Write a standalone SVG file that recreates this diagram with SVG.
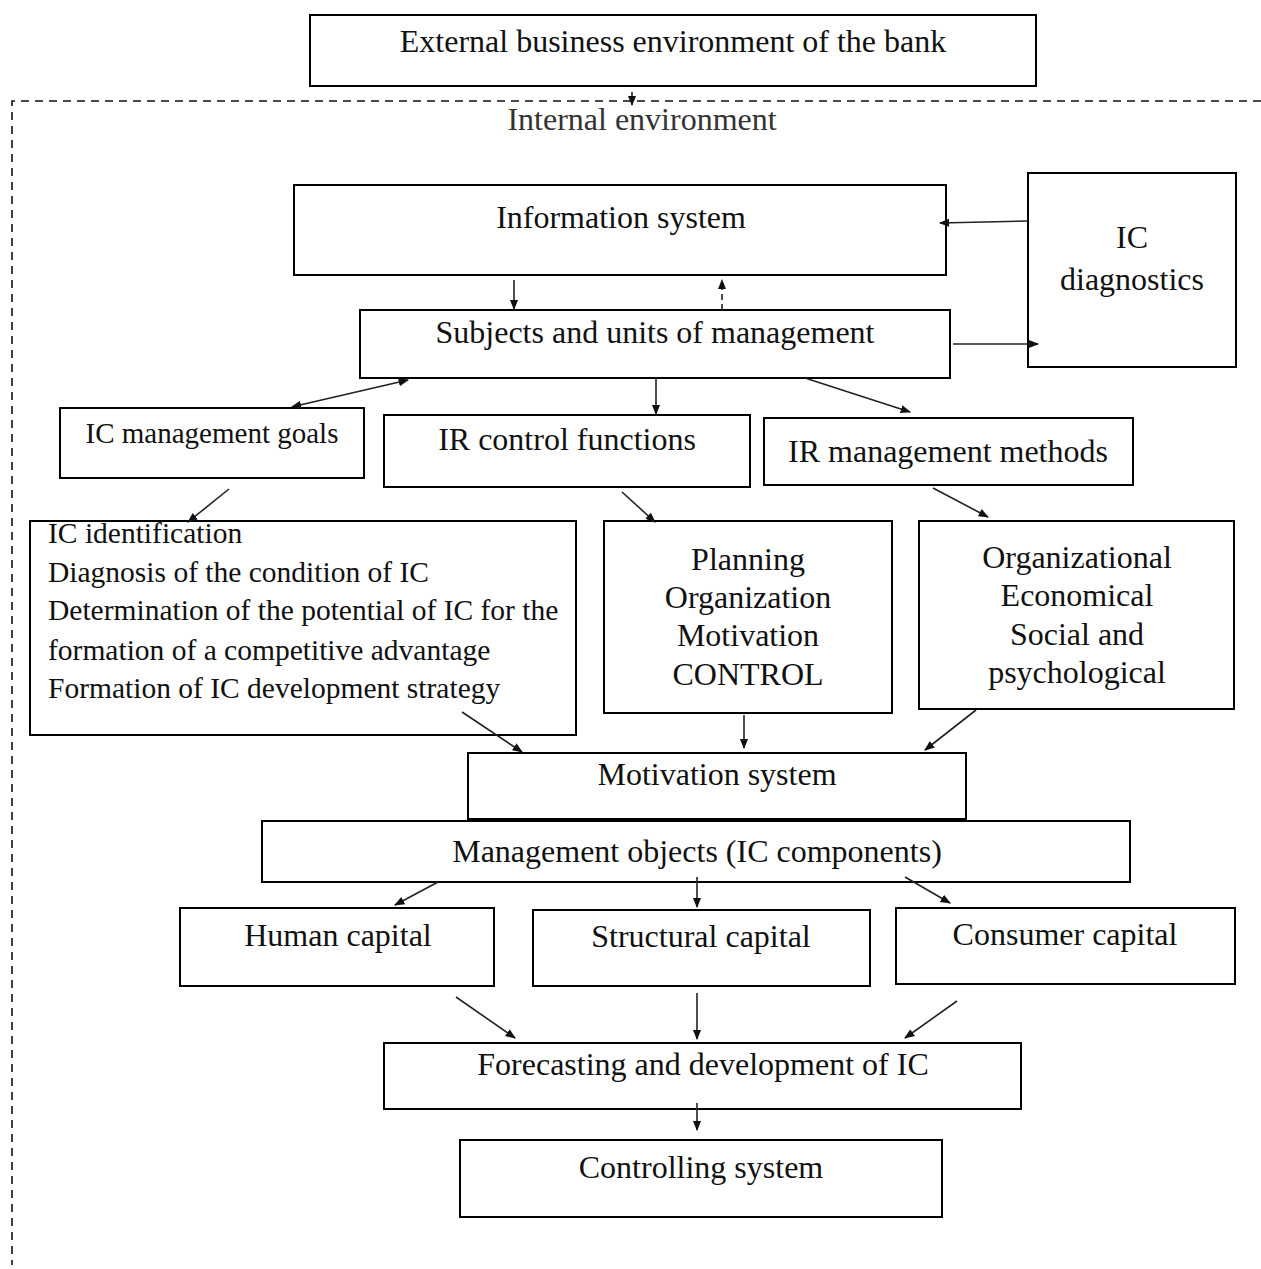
<svg xmlns="http://www.w3.org/2000/svg" width="1261" height="1269" viewBox="0 0 1261 1269">
<style>
  .box { fill: #fff; stroke: #000; stroke-width: 2; }
  .t { font-family: "Liberation Serif", "Times New Roman", serif; font-size: 32px; fill: #111; }
  .c { text-anchor: middle; }
  .lst { font-size: 29.5px; }
  .ln { stroke: #222; stroke-width: 1.6; fill: none; marker-end: url(#ah); }
  .dash { stroke: #111; stroke-width: 1.6; fill: none; stroke-dasharray: 8 6; }
</style>
<defs>
  <marker id="ah" viewBox="0 0 10 10" refX="9" refY="5" markerWidth="6.5" markerHeight="6.5" orient="auto" markerUnits="strokeWidth">
    <path d="M0,1 L10,5 L0,9 z" fill="#111"/>
  </marker>
  <marker id="as" viewBox="0 0 10 10" refX="1" refY="5" markerWidth="6.5" markerHeight="6.5" orient="auto-start-reverse" markerUnits="strokeWidth">
    <path d="M0,1 L10,5 L0,9 z" fill="#111"/>
  </marker>
</defs>
<rect width="1261" height="1269" fill="#fff"/>

<g id="internal-environment">
  <path class="dash" d="M1261,101 H12 V1265"/>
  <text class="t c" x="642" y="130" style="font-size:32px;fill:#333">Internal environment</text>
</g>

<g id="external">
  <rect class="box" x="310" y="15" width="726" height="71"/>
  <text class="t c" x="673" y="52">External business environment of the bank</text>
</g>
<g id="information-system">
  <rect class="box" x="294" y="185" width="652" height="90"/>
  <text class="t c" x="621" y="228">Information system</text>
</g>
<g id="ic-diagnostics">
  <rect class="box" x="1028" y="173" width="208" height="194"/>
  <text class="t c" x="1132" y="248">IC</text>
  <text class="t c" x="1132" y="290">diagnostics</text>
</g>
<g id="subjects">
  <rect class="box" x="360" y="310" width="590" height="68"/>
  <text class="t c" x="655" y="343">Subjects and units of management</text>
</g>
<g id="goals">
  <rect class="box" x="60" y="408" width="304" height="70"/>
  <text class="t c" x="212" y="443" style="font-size:29px">IC management goals</text>
</g>
<g id="functions">
  <rect class="box" x="384" y="415" width="366" height="72"/>
  <text class="t c" x="567" y="450">IR control functions</text>
</g>
<g id="methods">
  <rect class="box" x="764" y="418" width="369" height="67"/>
  <text class="t c" x="948" y="462">IR management methods</text>
</g>
<g id="goals-list">
  <rect class="box" x="30" y="521" width="546" height="214"/>
  <text class="t lst" x="48" y="543">IC identification</text>
  <text class="t lst" x="48" y="582">Diagnosis of the condition of IC</text>
  <text class="t lst" x="48" y="620">Determination of the potential of IC for the</text>
  <text class="t lst" x="48" y="660">formation of a competitive advantage</text>
  <text class="t lst" x="48" y="698">Formation of IC development strategy</text>
</g>
<g id="functions-list">
  <rect class="box" x="604" y="521" width="288" height="192"/>
  <text class="t c" x="748" y="570">Planning</text>
  <text class="t c" x="748" y="608">Organization</text>
  <text class="t c" x="748" y="646">Motivation</text>
  <text class="t c" x="748" y="685">CONTROL</text>
</g>
<g id="methods-list">
  <rect class="box" x="919" y="521" width="315" height="188"/>
  <text class="t c" x="1077" y="568">Organizational</text>
  <text class="t c" x="1077" y="606">Economical</text>
  <text class="t c" x="1077" y="645">Social and</text>
  <text class="t c" x="1077" y="683">psychological</text>
</g>
<g id="motivation">
  <rect class="box" x="468" y="753" width="498" height="66"/>
  <text class="t c" x="717" y="785">Motivation system</text>
</g>
<g id="objects">
  <rect class="box" x="262" y="821" width="868" height="61"/>
  <text class="t c" x="697" y="862">Management objects (IC components)</text>
</g>
<g id="human">
  <rect class="box" x="180" y="908" width="314" height="78"/>
  <text class="t c" x="338" y="946">Human capital</text>
</g>
<g id="structural">
  <rect class="box" x="533" y="910" width="337" height="76"/>
  <text class="t c" x="701" y="947">Structural capital</text>
</g>
<g id="consumer">
  <rect class="box" x="896" y="908" width="339" height="76"/>
  <text class="t c" x="1065" y="945">Consumer capital</text>
</g>
<g id="forecasting">
  <rect class="box" x="384" y="1043" width="637" height="66"/>
  <text class="t c" x="703" y="1075">Forecasting and development of IC</text>
</g>
<g id="controlling">
  <rect class="box" x="460" y="1140" width="482" height="77"/>
  <text class="t c" x="701" y="1178">Controlling system</text>
</g>

<g id="connectors">
  <line class="ln" x1="632" y1="92" x2="632" y2="105"/>
  <line class="ln" x1="514" y1="280" x2="514" y2="309"/>
  <line class="ln" x1="722" y1="310" x2="722" y2="280" stroke-dasharray="6 4"/>
  <line class="ln" x1="1028" y1="221" x2="940" y2="223"/>
  <line class="ln" x1="953" y1="344" x2="1038" y2="344"/>
  <line class="ln" x1="300" y1="405" x2="408" y2="380" marker-start="url(#as)"/>
  <line class="ln" x1="656" y1="378" x2="656" y2="414"/>
  <line class="ln" x1="805" y1="378" x2="910" y2="412"/>
  <line class="ln" x1="229" y1="489" x2="188" y2="522"/>
  <line class="ln" x1="622" y1="492" x2="655" y2="522"/>
  <line class="ln" x1="933" y1="488" x2="988" y2="517"/>
  <line class="ln" x1="462" y1="712" x2="522" y2="752"/>
  <line class="ln" x1="744" y1="715" x2="744" y2="748"/>
  <line class="ln" x1="976" y1="710" x2="925" y2="750"/>
  <line class="ln" x1="438" y1="882" x2="395" y2="905"/>
  <line class="ln" x1="697" y1="877" x2="697" y2="907"/>
  <line class="ln" x1="905" y1="877" x2="950" y2="903"/>
  <line class="ln" x1="456" y1="997" x2="515" y2="1038"/>
  <line class="ln" x1="697" y1="993" x2="697" y2="1039"/>
  <line class="ln" x1="957" y1="1001" x2="905" y2="1038"/>
  <line class="ln" x1="697" y1="1103" x2="697" y2="1130"/>
</g>
</svg>
